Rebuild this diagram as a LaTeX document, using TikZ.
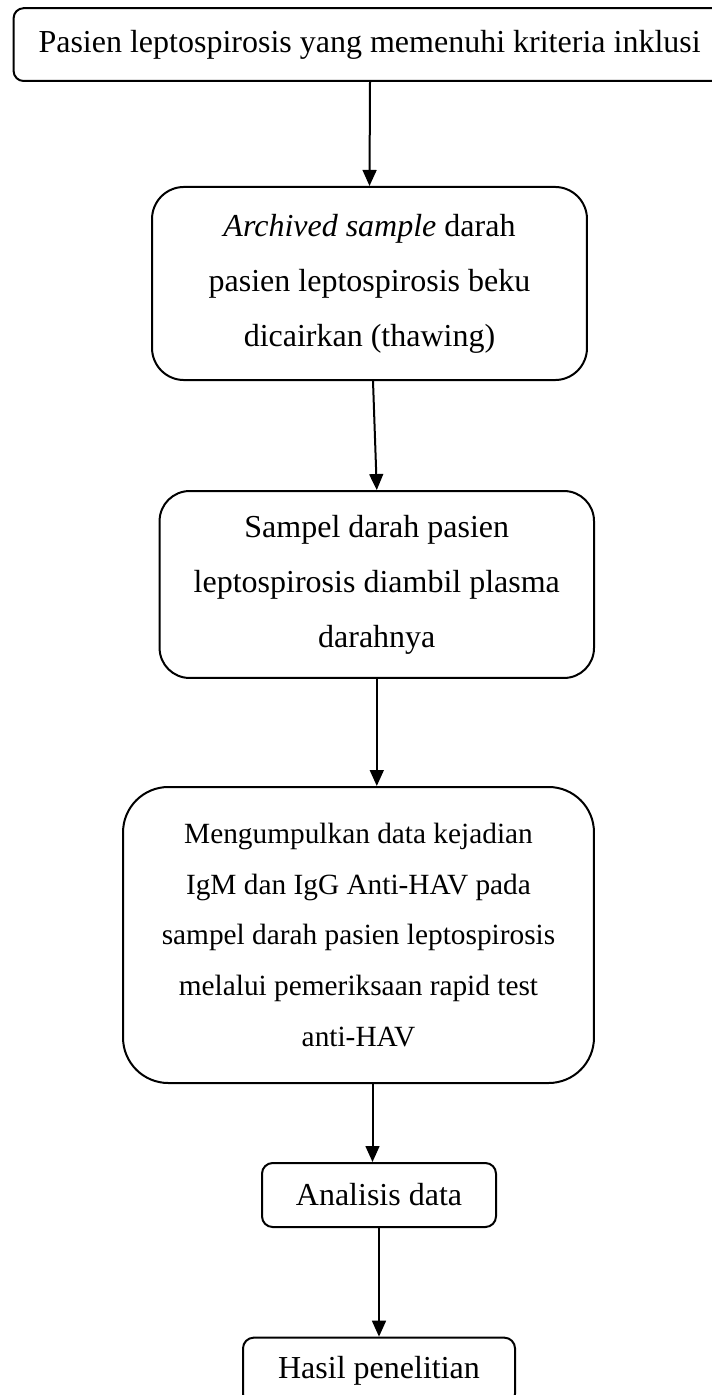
\documentclass[tikz,border=0pt]{standalone}
\usepackage{fontspec}
\setmainfont{Liberation Serif}
\usetikzlibrary{arrows.meta,positioning,calc}
\tikzstyle{flowbox} = [draw, shape=rectangle, line width=.75pt, align=center, inner sep=0pt, font=\fontsize{12pt}{20.6pt}\selectfont]
\tikzstyle{Arrow} = [-{Triangle[length=6pt,width=5.2pt]}, line width=.75pt]

\begin{document}
\begin{tikzpicture}[x=.375pt, y=-.375pt]
            \useasboundingbox (0,0) rectangle (712,1395);
            \clip (0,0) rectangle (712,1395);
            %%%%% Boxes %%%%%
            \node (A) [flowbox, rounded corners=3.75pt, minimum width=267pt, minimum height=27.3pt] at (369.6,44.6) {Pasien leptospirosis yang memenuhi kriteria inklusi};
            \node (B) [flowbox, rounded corners=12pt, minimum width=163.1pt, minimum height=72.4pt] at ($(A) + (-0.1,238.9)$) {\textit{Archived sample} darah\\pasien leptospirosis beku\\dicairkan (thawing)};
            \node (C) [flowbox, rounded corners=11.25pt, minimum width=162.9pt, minimum height=70.1pt] at ($(B) + (7.3,301)$) {Sampel darah pasien\\leptospirosis diambil plasma\\darahnya};
            \node (D) [flowbox, rounded corners=17pt, minimum width=176.6pt, minimum height=111pt, font=\fontsize{11pt}{19pt}\selectfont] at ($(C) + (-18.3,350.5)$) {Mengumpulkan data kejadian\\IgM dan IgG Anti-HAV pada\\sampel darah pasien leptospirosis\\melalui pemeriksaan rapid test\\anti-HAV};
            \node (E) [flowbox, rounded corners=4pt, minimum width=87.75pt, minimum height=24pt] at ($(D) + (20.5,260)$) {Analisis data};
            \node (F) [flowbox, rounded corners=4pt, minimum width=102pt, minimum height=25pt] at ($(E) + (0,176)$) {Hasil penelitian};
            %%%%% Arrows %%%%%
            \draw [Arrow] ($(A.south) + (0.4,0)$) -- (B.north);
            \draw [Arrow] ($(B.south) + (3.5,0)$) -- (C.north);
            \draw [Arrow] (C.south) -- (C.south |- D.north);
            \draw [Arrow] ($(D.south) + (14,0)$) -- ($(E.north) + (-6.5,0)$);
            \draw [Arrow] (E) -- (F);
        \end{tikzpicture}
\end{document}
